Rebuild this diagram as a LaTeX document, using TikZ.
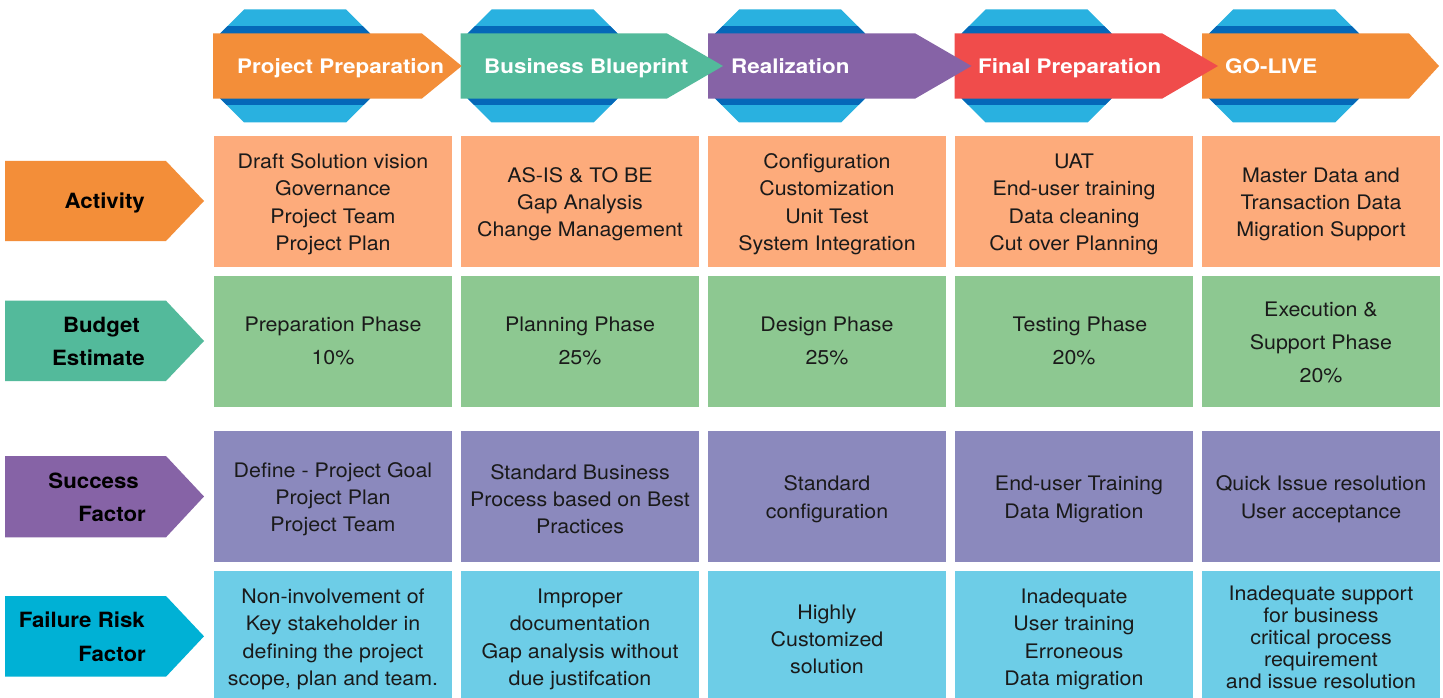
\documentclass[tikz,border=0pt]{standalone}
\usepackage{fontspec}
\setmainfont{TeX Gyre Heros}
\newfontfamily\hdrfont[FakeStretch=1.12]{TeX Gyre Heros}
\newfontfamily\lblfont[FakeStretch=1.06]{TeX Gyre Heros}
\newfontfamily\cellfont[FakeStretch=1.07]{TeX Gyre Heros}
\definecolor{hOrange}{HTML}{F38E39}
\definecolor{hGreen}{HTML}{53BA9B}
\definecolor{hPurple}{HTML}{8663A6}
\definecolor{hRed}{HTML}{F04C4B}
\definecolor{lBlue}{HTML}{29B1E0}
\definecolor{dBlue}{HTML}{0568B8}
\definecolor{cAct}{HTML}{FDAB7B}
\definecolor{cBud}{HTML}{8DC891}
\definecolor{cSuc}{HTML}{8B89BD}
\definecolor{cFail}{HTML}{6DCDE7}
\definecolor{lCyan}{HTML}{00B1D5}
\definecolor{txt}{HTML}{1A1A1A}
\begin{document}
\begin{tikzpicture}[x=1pt,y=-1pt,
  hdrtext/.style={anchor=base west,text=white,inner sep=0pt,font=\hdrfont\fontsize{20}{24}\selectfont\bfseries},
  lbltext/.style={anchor=base east,inner sep=0pt,font=\lblfont\fontsize{21}{24}\selectfont\bfseries},
  cellbox/.style={anchor=north west,minimum width=238pt,inner sep=0pt,outer sep=0pt},
  actcell/.style={cellbox,fill=cAct,minimum height=130.7pt},
  budcell/.style={cellbox,fill=cBud,minimum height=130.7pt},
  succell/.style={cellbox,fill=cSuc,minimum height=130.7pt},
  failcell/.style={cellbox,fill=cFail,minimum height=127pt},
  celltext/.style={inner sep=0pt,align=center,text=txt,font=\cellfont\fontsize{20}{27.3}\selectfont},
  budtext/.style={celltext,font=\cellfont\fontsize{20}{33}\selectfont},
]
\useasboundingbox (0,0) rectangle (1443,698);
\fill[white] (0,0) rectangle (1443,698);

% blue octagons behind headers
\foreach \L in {213,460.7,708,954.5,1202}{
  \pgfmathsetmacro{\c}{\L+82}
  \begin{scope}
    \path[clip] (\c-51,9.5) -- (\c+51,9.5) -- (\c+75,33.5) -- (\c+75,98.5) -- (\c+51,122.5) -- (\c-51,122.5) -- (\c-75,98.5) -- (\c-75,33.5) -- cycle;
    \fill[lBlue] (\c-80,5) rectangle (\c+80,125);
    \fill[dBlue] (\c-80,26.5) rectangle (\c+80,34);
    \fill[dBlue] (\c-80,98) rectangle (\c+80,105.5);
  \end{scope}
}

% header arrows, drawn right to left so tips overlap the next
\fill[hOrange] (1202,33.3) -- (1409,33.3) -- (1439,66) -- (1409,98.7) -- (1202,98.7) -- cycle;
\fill[hRed] (954.5,33.3) -- (1162,33.3) -- (1218,66) -- (1162,98.7) -- (954.5,98.7) -- cycle;
\fill[hPurple] (708,33.3) -- (915,33.3) -- (971.5,66) -- (915,98.7) -- (708,98.7) -- cycle;
\fill[hGreen] (460.7,33.3) -- (666.7,33.3) -- (723,66) -- (666.7,98.7) -- (460.7,98.7) -- cycle;
\fill[hOrange] (213,33.3) -- (421.7,33.3) -- (461.7,66) -- (421.7,98.7) -- (213,98.7) -- cycle;

\node[hdrtext] (h1) at (237,74) {Project Preparation};
\node[hdrtext] (h2) at (484,74) {Business Blueprint};
\node[hdrtext] (h3) at (731,74) {Realization};
\node[hdrtext] (h4) at (978,74) {Final Preparation};
\node[hdrtext] (h5) at (1225,74) {GO-LIVE};

% left labels
\fill[hOrange] (5,161) -- (166,161) -- (204,201) -- (166,241) -- (5,241) -- cycle;
\fill[hGreen] (5,300.7) -- (166,300.7) -- (204,341) -- (166,381) -- (5,381) -- cycle;
\fill[hPurple] (5,456) -- (166,456) -- (204,496.5) -- (166,537.3) -- (5,537.3) -- cycle;
\fill[lCyan] (5,596) -- (166,596) -- (204,636.3) -- (166,676.7) -- (5,676.7) -- cycle;

\node[lbltext] (l1) at (145,208.5) {Activity};
\node[lbltext] (l2a) at (140,332.5) {Budget};
\node[lbltext] (l2b) at (145,365.5) {Estimate};
\node[lbltext] (l3a) at (139,488.5) {Success};
\node[lbltext] (l3b) at (146,521.5) {Factor};
\node[lbltext] (l4a) at (145,627.5) {Failure Risk};
\node[lbltext] (l4b) at (146,661.5) {Factor};

% cells
\foreach \n/\L in {1/214,2/461,3/708,4/955,5/1202}{
  \node[actcell] (a\n) at (\L,136) {};
  \node[budcell] (b\n) at (\L,276) {};
  \node[succell] (s\n) at (\L,431) {};
  \node[failcell] (f\n) at (\L,571) {};
}

% activity row
\node[celltext,yshift=-3pt] (a1t) at (a1.center) {Draft Solution vision\\Governance\\Project Team\\Project Plan};
\node[celltext,yshift=-3pt] (a2t) at (a2.center) {AS-IS \& TO BE\\Gap Analysis\\Change Management};
\node[celltext,yshift=-3pt] (a3t) at (a3.center) {Configuration\\Customization\\Unit Test\\System Integration};
\node[celltext,yshift=-3pt] (a4t) at (a4.center) {UAT\\End-user training\\Data cleaning\\Cut over Planning};
\node[celltext,yshift=-3pt] (a5t) at (a5.center) {Master Data and\\Transaction Data\\Migration Support};

% budget row
\node[budtext] (b1t) at (b1.center) {Preparation Phase\\10\%};
\node[budtext] (b2t) at (b2.center) {Planning Phase\\25\%};
\node[budtext] (b3t) at (b3.center) {Design Phase\\25\%};
\node[budtext] (b4t) at (b4.center) {\hspace*{12pt}Testing Phase\\20\%};
\node[budtext,yshift=-1pt] (b5t) at (b5.center) {Execution \&\\Support Phase\\20\%};

% success row
\node[celltext,yshift=-3pt] (s1t) at (s1.center) {Define - Project Goal\\Project Plan\\Project Team};
\node[celltext,yshift=-3pt] (s2t) at (s2.center) {Standard Business\\Process based on Best\\Practices};
\node[celltext,yshift=-3pt] (s3t) at (s3.center) {Standard\\configuration};
\node[celltext,yshift=-3pt] (s4t) at (s4.center) {\hspace*{10pt}End-user Training\\Data Migration};
\node[celltext,yshift=-3pt] (s5t) at (s5.center) {Quick Issue resolution\\User acceptance};

% failure row
\node[celltext,yshift=-5pt] (f1t) at (f1.center) {Non-involvement of\\Key stakeholder in\\defining the project\\scope, plan and team.};
\node[celltext,yshift=-5pt] (f2t) at (f2.center) {Improper\\documentation\\Gap analysis without\\due justifcation};
\node[celltext,yshift=-5pt] (f3t) at (f3.center) {Highly\\Customized\\solution};
\node[celltext,yshift=-5pt] (f4t) at (f4.center) {Inadequate\\User training\\Erroneous\\Data migration};
\node[celltext,yshift=-3pt,font=\cellfont\fontsize{20}{22}\selectfont] (f5t) at (f5.center) {Inadequate support\\for business\\critical process\\requirement\\and issue resolution};
\end{tikzpicture}
\end{document}
